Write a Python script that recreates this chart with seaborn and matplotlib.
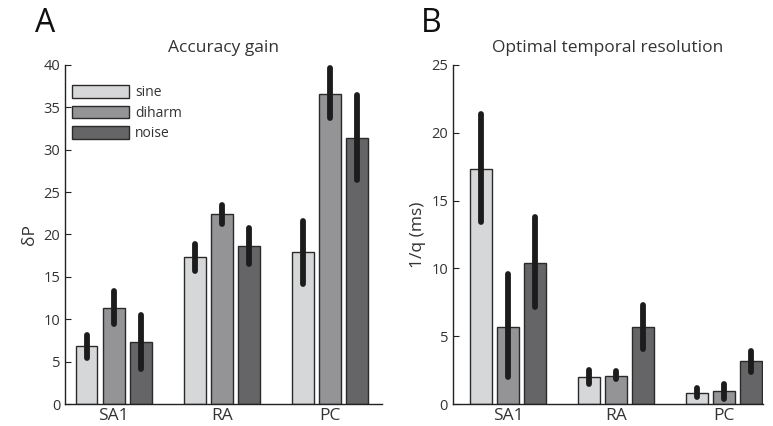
import matplotlib
matplotlib.use('Agg')
import matplotlib.pyplot as plt
import seaborn as sns
import pandas as pd

# Data
receptors = ['SA1', 'RA', 'PC']
stimuli = ['sine', 'diharm', 'noise']
colors = ['#d6d7d9', '#939498', '#646569']

# A: accuracy gain (dP) with error ranges
gain_sine = [6.8, 17.3, 17.9]
gain_diharm = [11.3, 22.4, 36.6]
gain_noise = [7.3, 18.6, 31.4]
gain_lo = [[5.4, 15.7, 14.2], [9.4, 21.2, 33.7], [4.1, 16.5, 26.4]]
gain_hi = [[8.2, 18.9, 21.6], [13.3, 23.5, 39.6], [10.5, 20.8, 36.4]]

# B: optimal temporal resolution 1/q (ms) with error ranges
res_sine = [17.35, 1.97, 0.81]
res_diharm = [5.7, 2.1, 0.94]
res_noise = [10.4, 5.7, 3.15]
res_lo = [[13.4, 1.48, 0.5], [1.97, 1.85, 0.37], [7.14, 4.06, 2.34]]
res_hi = [[21.4, 2.5, 1.2], [9.56, 2.4, 1.48], [13.8, 7.3, 3.94]]


def long_df(values):
    rows = []
    for stim, vals in zip(stimuli, values):
        for rec, v in zip(receptors, vals):
            rows.append({'receptor': rec, 'stimulus': stim, 'value': v})
    return pd.DataFrame(rows)


df_gain = long_df([gain_sine, gain_diharm, gain_noise])
df_res = long_df([res_sine, res_diharm, res_noise])

sns.set_style('white')
plt.rcParams['font.family'] = ['Open Sans', 'DejaVu Sans']
text_col = '#333333'

fig = plt.figure(figsize=(7.73, 4.26), dpi=100)
axA = fig.add_axes([0.0841, 0.0516, 0.410, 0.796])
axB = fig.add_axes([0.586, 0.0516, 0.401, 0.796])


def draw(ax, df, lo, hi, ymax, title, ylabel, xlim, legend):
    sns.barplot(data=df, x='receptor', y='value', hue='stimulus',
                order=receptors, hue_order=stimuli, palette=colors,
                width=0.75, gap=0.2, edgecolor='#2a2a2a', linewidth=1.0,
                errorbar=None, legend=legend, ax=ax)
    for i, cont in enumerate(ax.containers):
        for j, p in enumerate(cont.patches):
            xc = p.get_x() + p.get_width() / 2
            ax.plot([xc, xc], [lo[i][j], hi[i][j]], color='#1c1c1c',
                    lw=4.2, solid_capstyle='round', zorder=5)
    ax.set_ylim(0, ymax)
    ax.set_xlim(*xlim)
    ax.set_yticks(range(0, ymax + 1, 5))
    ax.set_xlabel('')
    ax.set_ylabel(ylabel, fontsize=12.5, color=text_col, labelpad=4)
    ax.set_title(title, fontsize=12.5, color=text_col, pad=9)
    for s in ['top', 'right']:
        ax.spines[s].set_visible(False)
    for s in ['left', 'bottom']:
        ax.spines[s].set_color('#222222')
        ax.spines[s].set_linewidth(1.0)
    ax.tick_params(axis='y', direction='in', length=4, width=0.8,
                   labelsize=10.5, colors='#222222', labelcolor=text_col, left=True)
    ax.tick_params(axis='x', length=0, labelsize=12.5, labelcolor=text_col, pad=3)


draw(axA, df_gain, gain_lo, gain_hi, 40, 'Accuracy gain', 'δP',
     (-0.45, 2.48), True)
draw(axB, df_res, res_lo, res_hi, 25, 'Optimal temporal resolution', '1/q (ms)',
     (-0.51, 2.36), False)

leg = axA.legend(loc='upper left', bbox_to_anchor=(0.005, 0.957), frameon=False,
                 fontsize=10, handlelength=4.1, handleheight=1.05,
                 labelspacing=0.38, handletextpad=0.45, borderaxespad=0)
for t in leg.get_texts():
    t.set_color(text_col)

fig.text(0.045, 0.925, 'A', fontsize=23, color='#111111')
fig.text(0.545, 0.925, 'B', fontsize=23, color='#111111')

fig.savefig('out.png', dpi=100)
